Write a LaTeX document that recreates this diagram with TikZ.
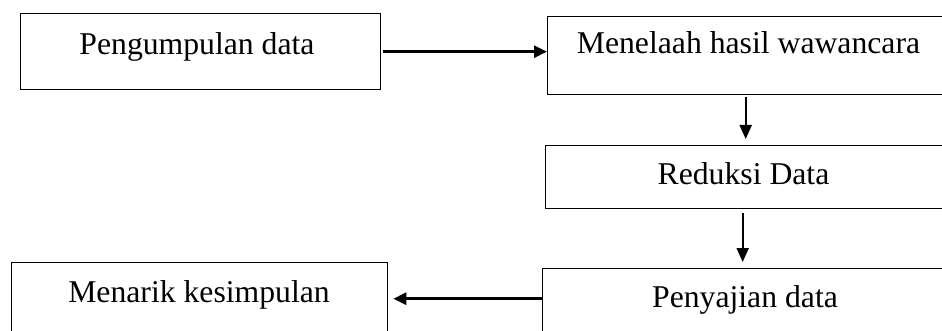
\documentclass[tikz,border=0pt]{standalone}
\usepackage{fontspec}
\setmainfont{Liberation Serif}
\usetikzlibrary{arrows.meta}

\tikzset{
  stagebox/.style={draw=black, line width=1.4pt, inner sep=0pt, anchor=north west},
  stagetext/.style={anchor=base, inner sep=0pt, font=\fontsize{31.7}{38}\selectfont},
  flowarrow/.style={-{Triangle[length=13pt,width=12pt]}, line width=2.8pt},
  downarrow/.style={-{Triangle[length=14pt,width=12pt]}, line width=2pt},
}

\begin{document}
\begin{tikzpicture}[x=1pt, y=-1pt]
  \useasboundingbox (0,0) rectangle (942,331);
  \clip (0,0) rectangle (942,331);

  % boxes
  \node[stagebox, minimum width=360pt, minimum height=76pt] (b1) at (20,13) {};
  \node[stagebox, minimum width=403pt, minimum height=78pt] (b2) at (547,16) {};
  \node[stagebox, minimum width=405pt, minimum height=63pt] (b3) at (545,145) {};
  \node[stagebox, minimum width=408pt, minimum height=72pt] (b4) at (542,268) {};
  \node[stagebox, minimum width=376pt, minimum height=78pt] (b5) at (11,262) {};

  % labels
  \node[stagetext] (t1) at (197,55) {Pengumpulan data};
  \node[stagetext] (t2) at (748.5,54) {Menelaah hasil wawancara};
  \node[stagetext] (t3) at (743.5,185) {Reduksi Data};
  \node[stagetext] (t4) at (745,307) {Penyajian data};
  \node[stagetext] (t5) at (199,302) {Menarik kesimpulan};

  % connectors
  \draw[flowarrow, shorten <=2pt] (b1.east) -- (b1.east -| b2.west);
  \draw[downarrow, shorten <=2pt, shorten >=6pt]
    ([xshift=-3.5pt]b2.south) -- ([xshift=-3.5pt]b2.south |- b3.north);
  \draw[downarrow, shorten <=4pt, shorten >=6pt]
    ([xshift=-5.5pt]b3.south) -- ([xshift=-5.5pt]b3.south |- b4.north);
  \coordinate (p4) at ([yshift=6pt]b4.west);
  \draw[flowarrow, shorten >=5pt] (p4) -- (p4 -| b5.east);
\end{tikzpicture}
\end{document}
